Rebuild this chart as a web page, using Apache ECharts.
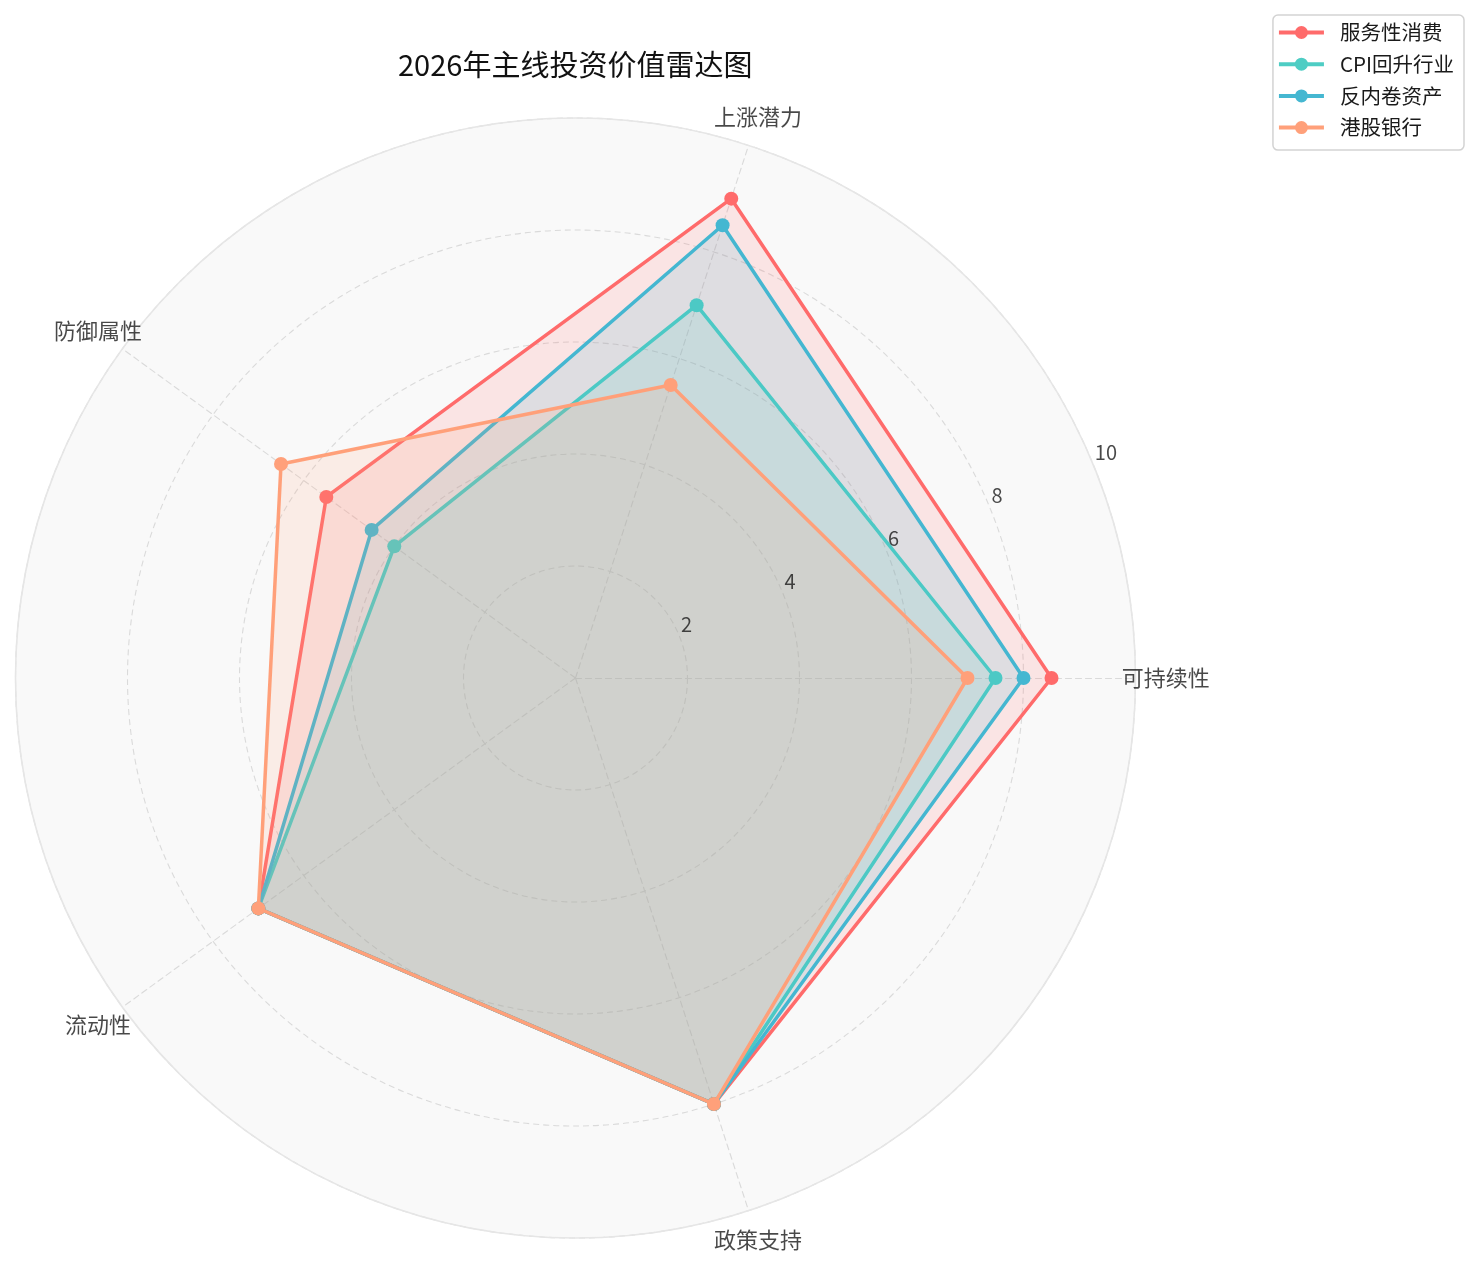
<!DOCTYPE html>
<html>
<head>
<meta charset="utf-8">
<script src="https://cdn.jsdelivr.net/npm/echarts@6/dist/echarts.min.js"></script>
<style>
html,body{margin:0;padding:0;background:#fff;}
#c{width:1479px;height:1266px;}
</style>
</head>
<body>
<div id="c"></div>
<script>
// ---- data ----
const indicators = ['可持续性', '上涨潜力', '防御属性', '流动性', '政策支持'];
const seriesNames = ['服务性消费', 'CPI回升行业', '反内卷资产', '港股银行'];
const serviceConsumption = [8.5, 9.0, 5.5, 7.0, 8.0];
const cpiRecovery = [7.5, 7.0, 4.0, 7.0, 8.0];
const antiInvolution = [8.0, 8.5, 4.5, 7.0, 8.0];
const hkBanks = [7.0, 5.5, 6.5, 7.0, 8.0];
const radialTicks = [2, 4, 6, 8, 10];
const axisMax = 10;

// ---- style / layout ----
const colors = ['#FF6B6B', '#4ECDC4', '#45B7D1', '#FFA07A'];
const CENTER = [575.5, 678];
const RADIUS = 560;
const NAME_R = 10.54;      // radius (in value units) where category names are centred
const TICK_ANGLE = 22.5;   // degrees, direction of radial tick labels
const FONT = '"Noto Sans CJK SC", "Noto Sans", sans-serif';

const allValues = [serviceConsumption, cpiRecovery, antiInvolution, hkBanks];
const step = 360 / indicators.length;

const radarSeries = seriesNames.map((name, i) => ({
  type: 'radar',
  name: name,
  radarIndex: 0,
  symbol: 'circle',
  symbolSize: 14,
  z: 2 + i * 0.01,
  itemStyle: { color: colors[i] },
  lineStyle: { color: colors[i], width: 3.5 },
  areaStyle: { color: colors[i], opacity: 0.15 },
  data: [{ name: name, value: allValues[i] }]
}));

const hiddenAxis = { axisLine: { show: false }, axisTick: { show: false }, axisLabel: { show: false }, splitLine: { show: false } };

const chart = echarts.init(document.getElementById('c'), null, { renderer: 'canvas' });
chart.setOption({
  animation: false,
  backgroundColor: '#ffffff',
  textStyle: { fontFamily: FONT },
  title: {
    text: '2026年主线投资价值雷达图',
    left: 398,
    top: 50,
    padding: 0,
    textStyle: { fontFamily: FONT, fontSize: 29, fontWeight: 'normal', color: '#111', lineHeight: 29 }
  },
  legend: {
    data: seriesNames,
    orient: 'vertical',
    right: 15,
    top: 15,
    icon: 'path://M0,4.5 L45,4.5 L45,8.5 L0,8.5 Z M16,6.5 A6.5,6.5 0 1 1 29,6.5 A6.5,6.5 0 1 1 16,6.5 Z',
    itemWidth: 45,
    itemHeight: 13,
    itemGap: 10.7,
    itemStyle: { borderWidth: 0 },
    padding: [7, 10, 12, 6],
    backgroundColor: 'rgba(255,255,255,0.8)',
    borderColor: '#d3d3d3',
    borderWidth: 1.5,
    borderRadius: 5,
    textStyle: { fontFamily: FONT, fontSize: 20.5, color: '#1a1a1a', lineHeight: 21, padding: [0, 0, 0, 11] }
  },
  radar: {
    center: CENTER,
    radius: RADIUS,
    startAngle: 0,
    shape: 'circle',
    splitNumber: radialTicks.length,
    indicator: indicators.map(n => ({ name: n, min: 0, max: axisMax })),
    axisName: { show: false },
    axisLine: { lineStyle: { color: '#dadada', width: 1.1, type: [6, 4] } },
    splitLine: { lineStyle: { color: '#dadada', width: 1.1, type: [6, 4] } },
    splitArea: { show: true, areaStyle: { color: ['#f9f9f9'] } },
    axisTick: { show: false },
    axisLabel: { show: false }
  },
  polar: [
    { center: CENTER, radius: RADIUS },
    { center: CENTER, radius: RADIUS * NAME_R / axisMax }
  ],
  angleAxis: [
    {
      polarIndex: 0, type: 'value', min: 0, max: 360, startAngle: 0, clockwise: false, z: 1,
      axisLine: { show: true, lineStyle: { color: '#e6e6e6', width: 1.6 } },
      axisTick: { show: false }, axisLabel: { show: false }, splitLine: { show: false }
    },
    Object.assign({ polarIndex: 1, type: 'value', min: 0, max: 360, startAngle: 0, clockwise: false }, hiddenAxis)
  ],
  radiusAxis: [
    Object.assign({ polarIndex: 0, type: 'value', min: 0, max: axisMax }, hiddenAxis),
    Object.assign({ polarIndex: 1, type: 'value', min: 0, max: NAME_R }, hiddenAxis)
  ],
  series: radarSeries.concat([
    {
      type: 'scatter',
      coordinateSystem: 'polar',
      polarIndex: 1,
      symbolSize: 1,
      z: 5,
      silent: true,
      itemStyle: { color: 'rgba(0,0,0,0)' },
      data: indicators.map((n, i) => ({ name: n, value: [NAME_R, i * step] })),
      label: { show: true, position: 'inside', formatter: '{b}', fontFamily: FONT, fontSize: 22, color: '#1a1a1a' }
    },
    {
      type: 'scatter',
      coordinateSystem: 'polar',
      polarIndex: 0,
      symbolSize: 1,
      z: 5,
      silent: true,
      itemStyle: { color: 'rgba(0,0,0,0)' },
      data: radialTicks.map(v => ({ name: String(v), value: [v, TICK_ANGLE] })),
      label: { show: true, position: [2.5, -0.5], align: 'left', verticalAlign: 'bottom', formatter: '{b}', fontFamily: FONT, fontSize: 20, color: '#1a1a1a' }
    }
  ])
});
</script>
</body>
</html>
